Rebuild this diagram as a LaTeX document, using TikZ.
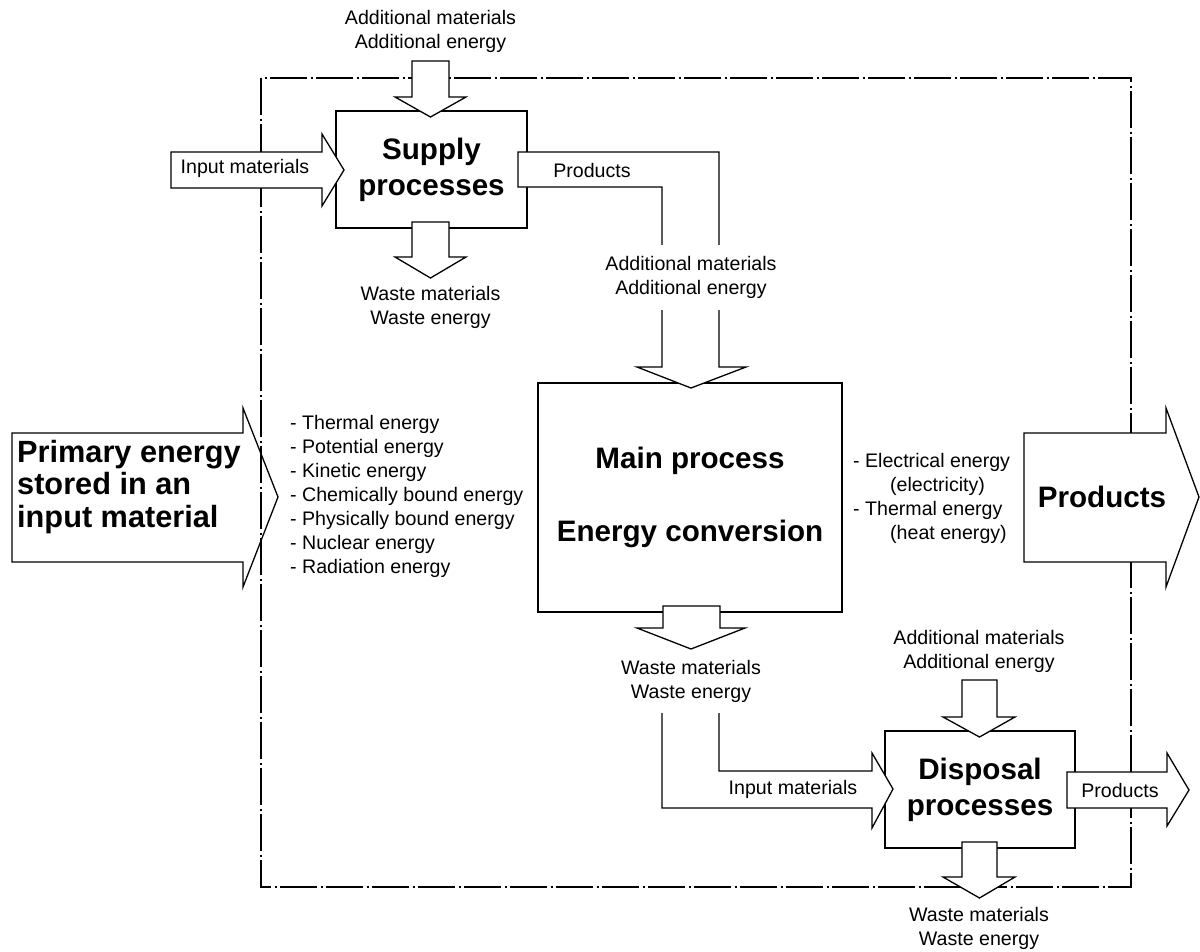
\documentclass[tikz,border=0pt]{standalone}
\usepackage{fontspec}
\setmainfont{Liberation Sans}
\begin{document}
\begin{tikzpicture}[x=1pt,y=-1pt,
  proc/.style={draw,line width=2.6pt,rectangle,inner sep=0pt,fill=white,
    font=\bfseries\fontsize{29.6}{36}\selectfont,align=center},
  blockarrow/.style={draw,fill=white,line width=1.3pt,line join=miter},
  lbl/.style={inner sep=0pt,font=\fontsize{19.6}{24}\selectfont,align=center},
  big/.style={inner sep=0pt,font=\bfseries\fontsize{29.6}{32.5}\selectfont},
  boundary/.style={line width=1.3pt,dash pattern=on 37pt off 3.5pt on 2pt off 3.5pt}]
\useasboundingbox (0,0) rectangle (1200,951);

% primary energy entering the system
\filldraw[blockarrow] (12,433) -- (243,433) -- (243,408) -- (278,497)
  -- (243,587) -- (243,562) -- (12,562) -- cycle;
\node[big,align=left,anchor=west,font=\bfseries\fontsize{30.7}{32.5}\selectfont]
  (primary) at (17,487) {Primary energy\\stored in an\\input material};

% system boundary
\draw[boundary] (261,78) rectangle (1131,887);

% process boxes
\node[proc,minimum width=191pt,minimum height=117pt] (supply) at (431.5,169.5)
  {Supply\\processes};
\node[proc,minimum width=304pt,minimum height=229pt] (main) at (690,497.5)
  {Main process\\[37pt]Energy conversion};
\node[proc,minimum width=190pt,minimum height=117pt] (disposal) at (980,789.5)
  {Disposal\\processes};

% flows of the supply processes
\filldraw[blockarrow] (412,61) -- (449,61) -- (449,97) -- (466,97) -- (430.5,117)
  -- (395,97) -- (412,97) -- cycle;
\filldraw[blockarrow] (412,222) -- (449,222) -- (449,257) -- (466,257) -- (430.5,278)
  -- (395,257) -- (412,257) -- cycle;
\filldraw[blockarrow] (171,152) -- (322,152) -- (322,134) -- (344,170)
  -- (322,206) -- (322,188) -- (171,188) -- cycle;
% products of the supply processes feeding the main process
\filldraw[blockarrow] (518,152) -- (719,152) -- (719,367) -- (746,367) -- (691,388)
  -- (637,367) -- (662,367) -- (662,187) -- (518,187) -- cycle;

% main process outputs
\filldraw[blockarrow] (1024,433) -- (1166,433) -- (1166,408) -- (1199,497)
  -- (1166,587) -- (1166,562) -- (1024,562) -- cycle;
\filldraw[blockarrow] (663,606) -- (720,606) -- (720,628) -- (745,628) -- (691,649)
  -- (637,628) -- (663,628) -- cycle;
% waste of the main process feeding the disposal processes
\filldraw[blockarrow] (662,713) -- (662,808) -- (872,808) -- (872,828) -- (893,789)
  -- (872,753) -- (872,771) -- (719,771) -- (719,713);

% flows of the disposal processes
\filldraw[blockarrow] (962,680) -- (997,680) -- (997,717) -- (1015,717) -- (979.5,737)
  -- (943,717) -- (962,717) -- cycle;
\filldraw[blockarrow] (962,842) -- (997,842) -- (997,877) -- (1015,877) -- (979.5,898)
  -- (943,877) -- (962,877) -- cycle;
\filldraw[blockarrow] (1067,772) -- (1167,772) -- (1167,753) -- (1189,790)
  -- (1167,826) -- (1167,808) -- (1067,808) -- cycle;

% labels
\node[lbl] (addsup) at (430.5,31) {Additional materials\\Additional energy};
\node[lbl] (wastesup) at (430.5,307) {Waste materials\\Waste energy};
\node[lbl] (insup) at (245,168) {Input materials};
\node[lbl] (prodsup) at (592,170) {Products};
\node[lbl,fill=white,inner xsep=3pt,minimum height=65pt] (addmain) at (691,277)
  {Additional materials\\Additional energy};
\node[lbl] (wastemain) at (691,681) {Waste materials\\Waste energy};
\node[lbl] (indisp) at (793,789) {Input materials};
\node[lbl] (adddisp) at (979,651) {Additional materials\\Additional energy};
\node[lbl] (wastedisp) at (979,928) {Waste materials\\Waste energy};
\node[lbl] (proddisp) at (1120,790) {Products};

\node[big] (products) at (1102,497) {Products};

\node[lbl,align=left,anchor=west] (forms) at (290,496)
  {- Thermal energy\\- Potential energy\\- Kinetic energy\\- Chemically bound energy\\
   - Physically bound energy\\- Nuclear energy\\- Radiation energy};
\node[lbl,align=left,anchor=west] (outforms) at (853,498)
  {- Electrical energy\\\hspace*{37pt}(electricity)\\- Thermal energy\\\hspace*{37pt}(heat energy)};
\end{tikzpicture}
\end{document}
